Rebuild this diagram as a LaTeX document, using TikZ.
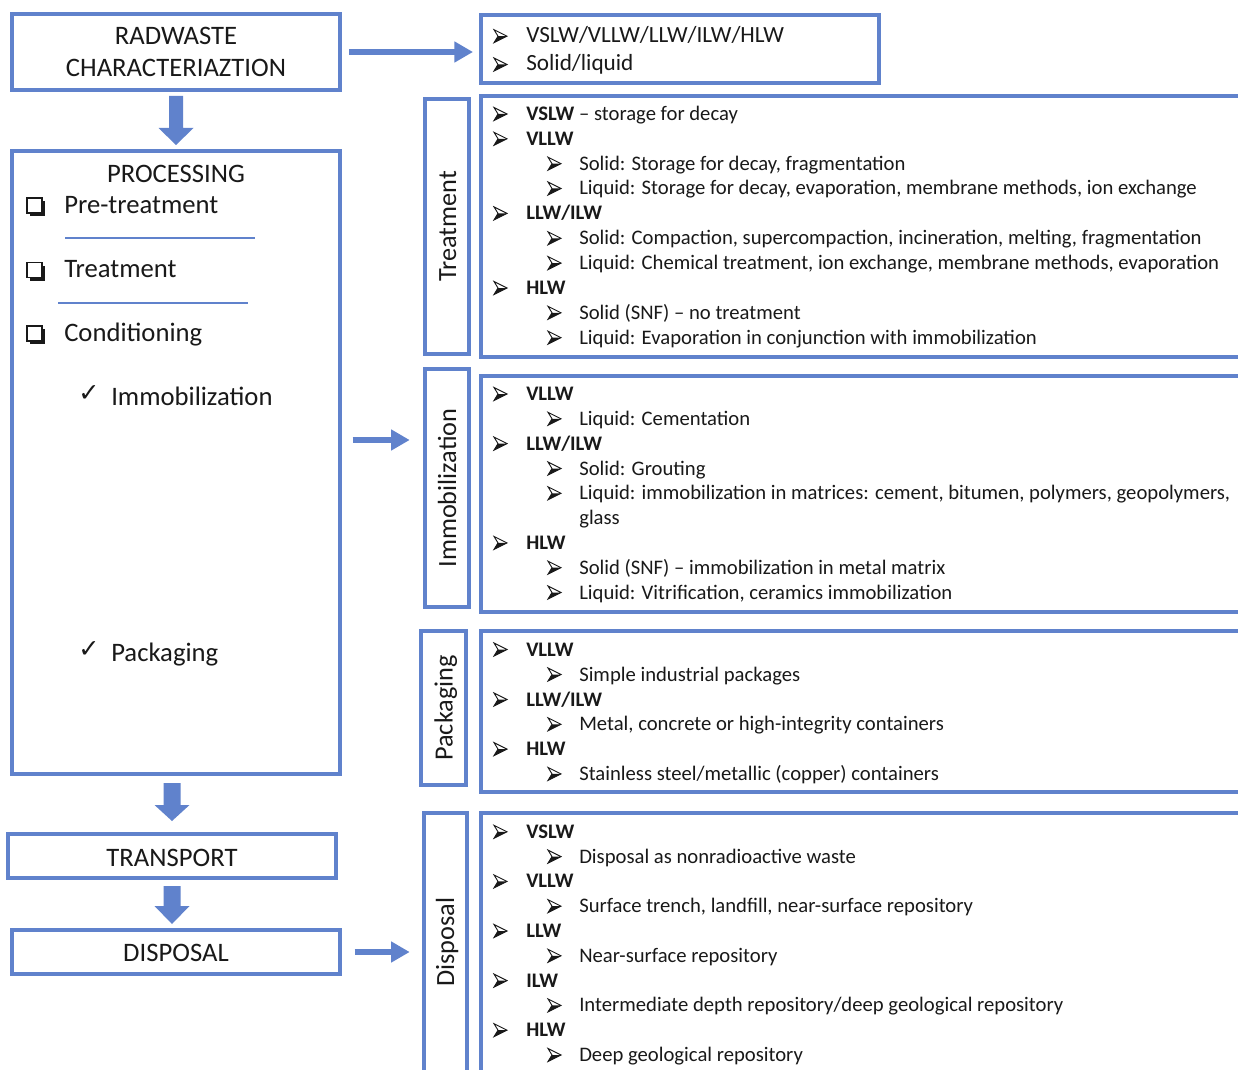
\documentclass[tikz,border=0pt]{standalone}
\usepackage{fontspec}
\setmainfont{Carlito}
\newfontfamily\djv{DejaVu Sans}
\usetikzlibrary{arrows.meta,calc}
\definecolor{bl}{RGB}{96,130,204}
\definecolor{tx}{RGB}{25,25,25}
\tikzset{
  box/.style={draw=bl, line width=3pt, rectangle, inner sep=0pt, fill=white},
  wh/.style 2 args={minimum width=#1*0.75pt, minimum height=#2*0.75pt},
  big/.style={font=\fontsize{20}{24}\selectfont, text=tx, inner sep=0pt},
  chk/.style={font=\djv\fontsize{19}{22}\selectfont, text=tx, inner sep=0pt, anchor=base west},
  lab/.style={font=\fontsize{19.7}{24}\selectfont, text=tx, inner sep=0pt, rotate=90, anchor=base},
  item/.style={font=\fontsize{15.5}{18}\selectfont, text=tx, inner sep=0pt, anchor=base west},
  itemb/.style={font=\fontsize{17.4}{20}\selectfont, text=tx, inner sep=0pt, anchor=base west},
  flow/.style={draw=bl, line width=4pt, -{Triangle[length=14pt,width=15pt]}},
  sep/.style={draw=bl, line width=1.5pt},
  bul/.pic={
    \fill[tx] (4,-6.5) -- (13,-6.5) -- (0,0) -- cycle;
    \draw[tx, line width=0.7pt, line join=miter] (0,-13) -- (13,-6.5) -- (0,0) -- (4,-6.5) -- cycle;
  },
  cbox/.pic={
    \fill[tx] (3,-12) rectangle (18,3);
    \fill[white] (0,-15) rectangle (15,0);
    \draw[tx, line width=1pt] (0,-15) rectangle (15,0);
  }
}
\newcommand\Li[3]{\pic at (494,#2) {bul}; \node[item] (#1) at (526,#2) {#3};}
\newcommand\Lii[3]{\pic at (548,#2) {bul}; \node[item] (#1) at (579,#2) {#3};}
\newcommand\blkarrow[4]{%
  \fill[bl] ($(#1)+(-#3,0)$) -- ($(#1)+(#3,0)$) -- ($(#2)+(#3,-#4)$) -- ($(#2)+(17.5,-#4)$)
    -- (#2) -- ($(#2)+(-17.5,-#4)$) -- ($(#2)+(-#3,-#4)$) -- cycle;}
\begin{document}
\begin{tikzpicture}[x=0.75pt,y=-0.75pt]
\useasboundingbox (0,0) rectangle (1238,1070);
\fill[white] (0,0) rectangle (1238,1070);
\clip (0,0) rectangle (1238,1070);

% left column boxes
\node[box, wh={328}{76}] (rad) at (176,52) {};
\node[big, anchor=base] (radt1) at (176,45) {RADWASTE};
\node[big, anchor=base] (radt2) at (176,77) {CHARACTERIAZTION};

\node[box, wh={328}{623}] (proc) at (176,462.5) {};
\node[big, anchor=base] (proct) at (176,182) {PROCESSING};
\pic at (27,213) {cbox};
\node[big, anchor=base west] (pre) at (64,213) {Pre-treatment};
\draw[sep] (65,238.3) -- (255,238.3);
\pic at (27,277.5) {cbox};
\node[big, anchor=base west] (trt) at (64,277.5) {Treatment};
\draw[sep] (58,303.3) -- (248,303.3);
\pic at (27,341) {cbox};
\node[big, anchor=base west] (cond) at (64,341) {Conditioning};
\node[chk] (ck1) at (78,401) {✓};
\node[big, anchor=base west] (imm) at (111,405) {Immobilization};
\node[chk] (ck2) at (78,657) {✓};
\node[big, anchor=base west] (pack) at (111,661) {Packaging};

\node[box, wh={328}{44}] (trans) at (172,856) {};
\node[big, anchor=base] (transt) at (172,866) {TRANSPORT};
\node[box, wh={328}{44}] (disp) at (176,952) {};
\node[big, anchor=base] (dispt) at (176,961) {DISPOSAL};

% top right box
\node[box, wh={398}{68}] (typ) at (680,49) {};
\pic at (494,42.7) {bul};
\node[itemb] (ty1) at (526,42.7) {VSLW/VLLW/LLW/ILW/HLW};
\pic at (494,71) {bul};
\node[itemb] (ty2) at (526,71) {Solid/liquid};

% label boxes
\node[box, wh={44}{255}] (tlab) at (447,226.5) {};
\node[lab] (tlabt) at (456,226.5) {Treatment};
\node[box, wh={44}{238}] (ilab) at (447,488) {};
\node[lab] (ilabt) at (456,488) {Immobilization};
\node[box, wh={45}{154}] (plab) at (443.5,708) {};
\node[lab] (plabt) at (452.5,708) {Packaging};
\node[box, wh={43}{287}] (dlab) at (445.5,956.5) {};
\node[lab] (dlabt) at (454,942) {Disposal};

% content boxes
\node[box, wh={781}{261}] (tcon) at (871.5,226.5) {};
\node[box, wh={781}{236}] (icon) at (871.5,494) {};
\node[box, wh={781}{161}] (pcon) at (871.5,711.5) {};
\node[box, wh={781}{287}] (dcon) at (871.5,956.5) {};

% treatment content
\Li{t1}{120.5}{\textbf{VSLW} -- storage for decay}
\Li{t2}{145.3}{\textbf{VLLW}}
\Lii{t3}{170.2}{Solid: Storage for decay, fragmentation}
\Lii{t4}{195}{Liquid: Storage for decay, evaporation, membrane methods, ion exchange}
\Li{t5}{219.9}{\textbf{LLW/ILW}}
\Lii{t6}{244.8}{Solid: Compaction, supercompaction, incineration, melting, fragmentation}
\Lii{t7}{269.6}{Liquid: Chemical treatment, ion exchange, membrane methods, evaporation}
\Li{t8}{294.5}{\textbf{HLW}}
\Lii{t9}{319.3}{Solid (SNF) -- no treatment}
\Lii{t10}{344.2}{Liquid: Evaporation in conjunction with immobilization}

% immobilization content
\Li{i1}{400.5}{\textbf{VLLW}}
\Lii{i2}{425.3}{Liquid: Cementation}
\Li{i3}{450.1}{\textbf{LLW/ILW}}
\Lii{i4}{475}{Solid: Grouting}
\Lii{i5}{499.8}{Liquid: immobilization in matrices: cement, bitumen, polymers, geopolymers,}
\node[item] (i5b) at (579,524.6) {glass};
\Li{i6}{549.4}{\textbf{HLW}}
\Lii{i7}{574.2}{Solid (SNF) -- immobilization in metal matrix}
\Lii{i8}{599}{Liquid: Vitrification, ceramics immobilization}

% packaging content
\Li{p1}{656}{\textbf{VLLW}}
\Lii{p2}{681}{Simple industrial packages}
\Li{p3}{706}{\textbf{LLW/ILW}}
\Lii{p4}{730.8}{Metal, concrete or high-integrity containers}
\Li{p5}{755.6}{\textbf{HLW}}
\Lii{p6}{780.4}{Stainless steel/metallic (copper) containers}

% disposal content
\Li{d1}{838.3}{\textbf{VSLW}}
\Lii{d2}{863.1}{Disposal as nonradioactive waste}
\Li{d3}{887.9}{\textbf{VLLW}}
\Lii{d4}{912.7}{Surface trench, landfill, near-surface repository}
\Li{d5}{937.5}{\textbf{LLW}}
\Lii{d6}{962.3}{Near-surface repository}
\Li{d7}{987.1}{\textbf{ILW}}
\Lii{d8}{1011.9}{Intermediate depth repository/deep geological repository}
\Li{d9}{1036.7}{\textbf{HLW}}
\Lii{d10}{1061.5}{Deep geological repository}

% connectors
\draw[flow] ($(rad.east)+(7,0)$) -- ($(typ.west |- rad.east)+(-6,0)$);
\draw[flow] ($(proc.east)+(10.7,-22.5)$) -- ($(ilab.west |- proc.east)+(-13.3,-22.5)$);
\draw[flow] ($(disp.east)+(12.7,0)$) -- ($(dlab.west |- disp.east)+(-12.3,0)$);

\coordinate (b1s) at ($(rad.south)+(0,4)$);
\coordinate (b1e) at ($(proc.north)+(0,-4)$);
\blkarrow{b1s}{b1e}{7}{17}
\coordinate (b2s) at ($(trans.north |- proc.south)+(0,7)$);
\coordinate (b2e) at ($(trans.north)+(0,-11)$);
\blkarrow{b2s}{b2e}{8.5}{16}
\coordinate (b3s) at ($(trans.south)+(0,6)$);
\coordinate (b3e) at ($(trans.south |- disp.north)+(0,-4)$);
\blkarrow{b3s}{b3e}{8.5}{18}
\end{tikzpicture}
\end{document}
